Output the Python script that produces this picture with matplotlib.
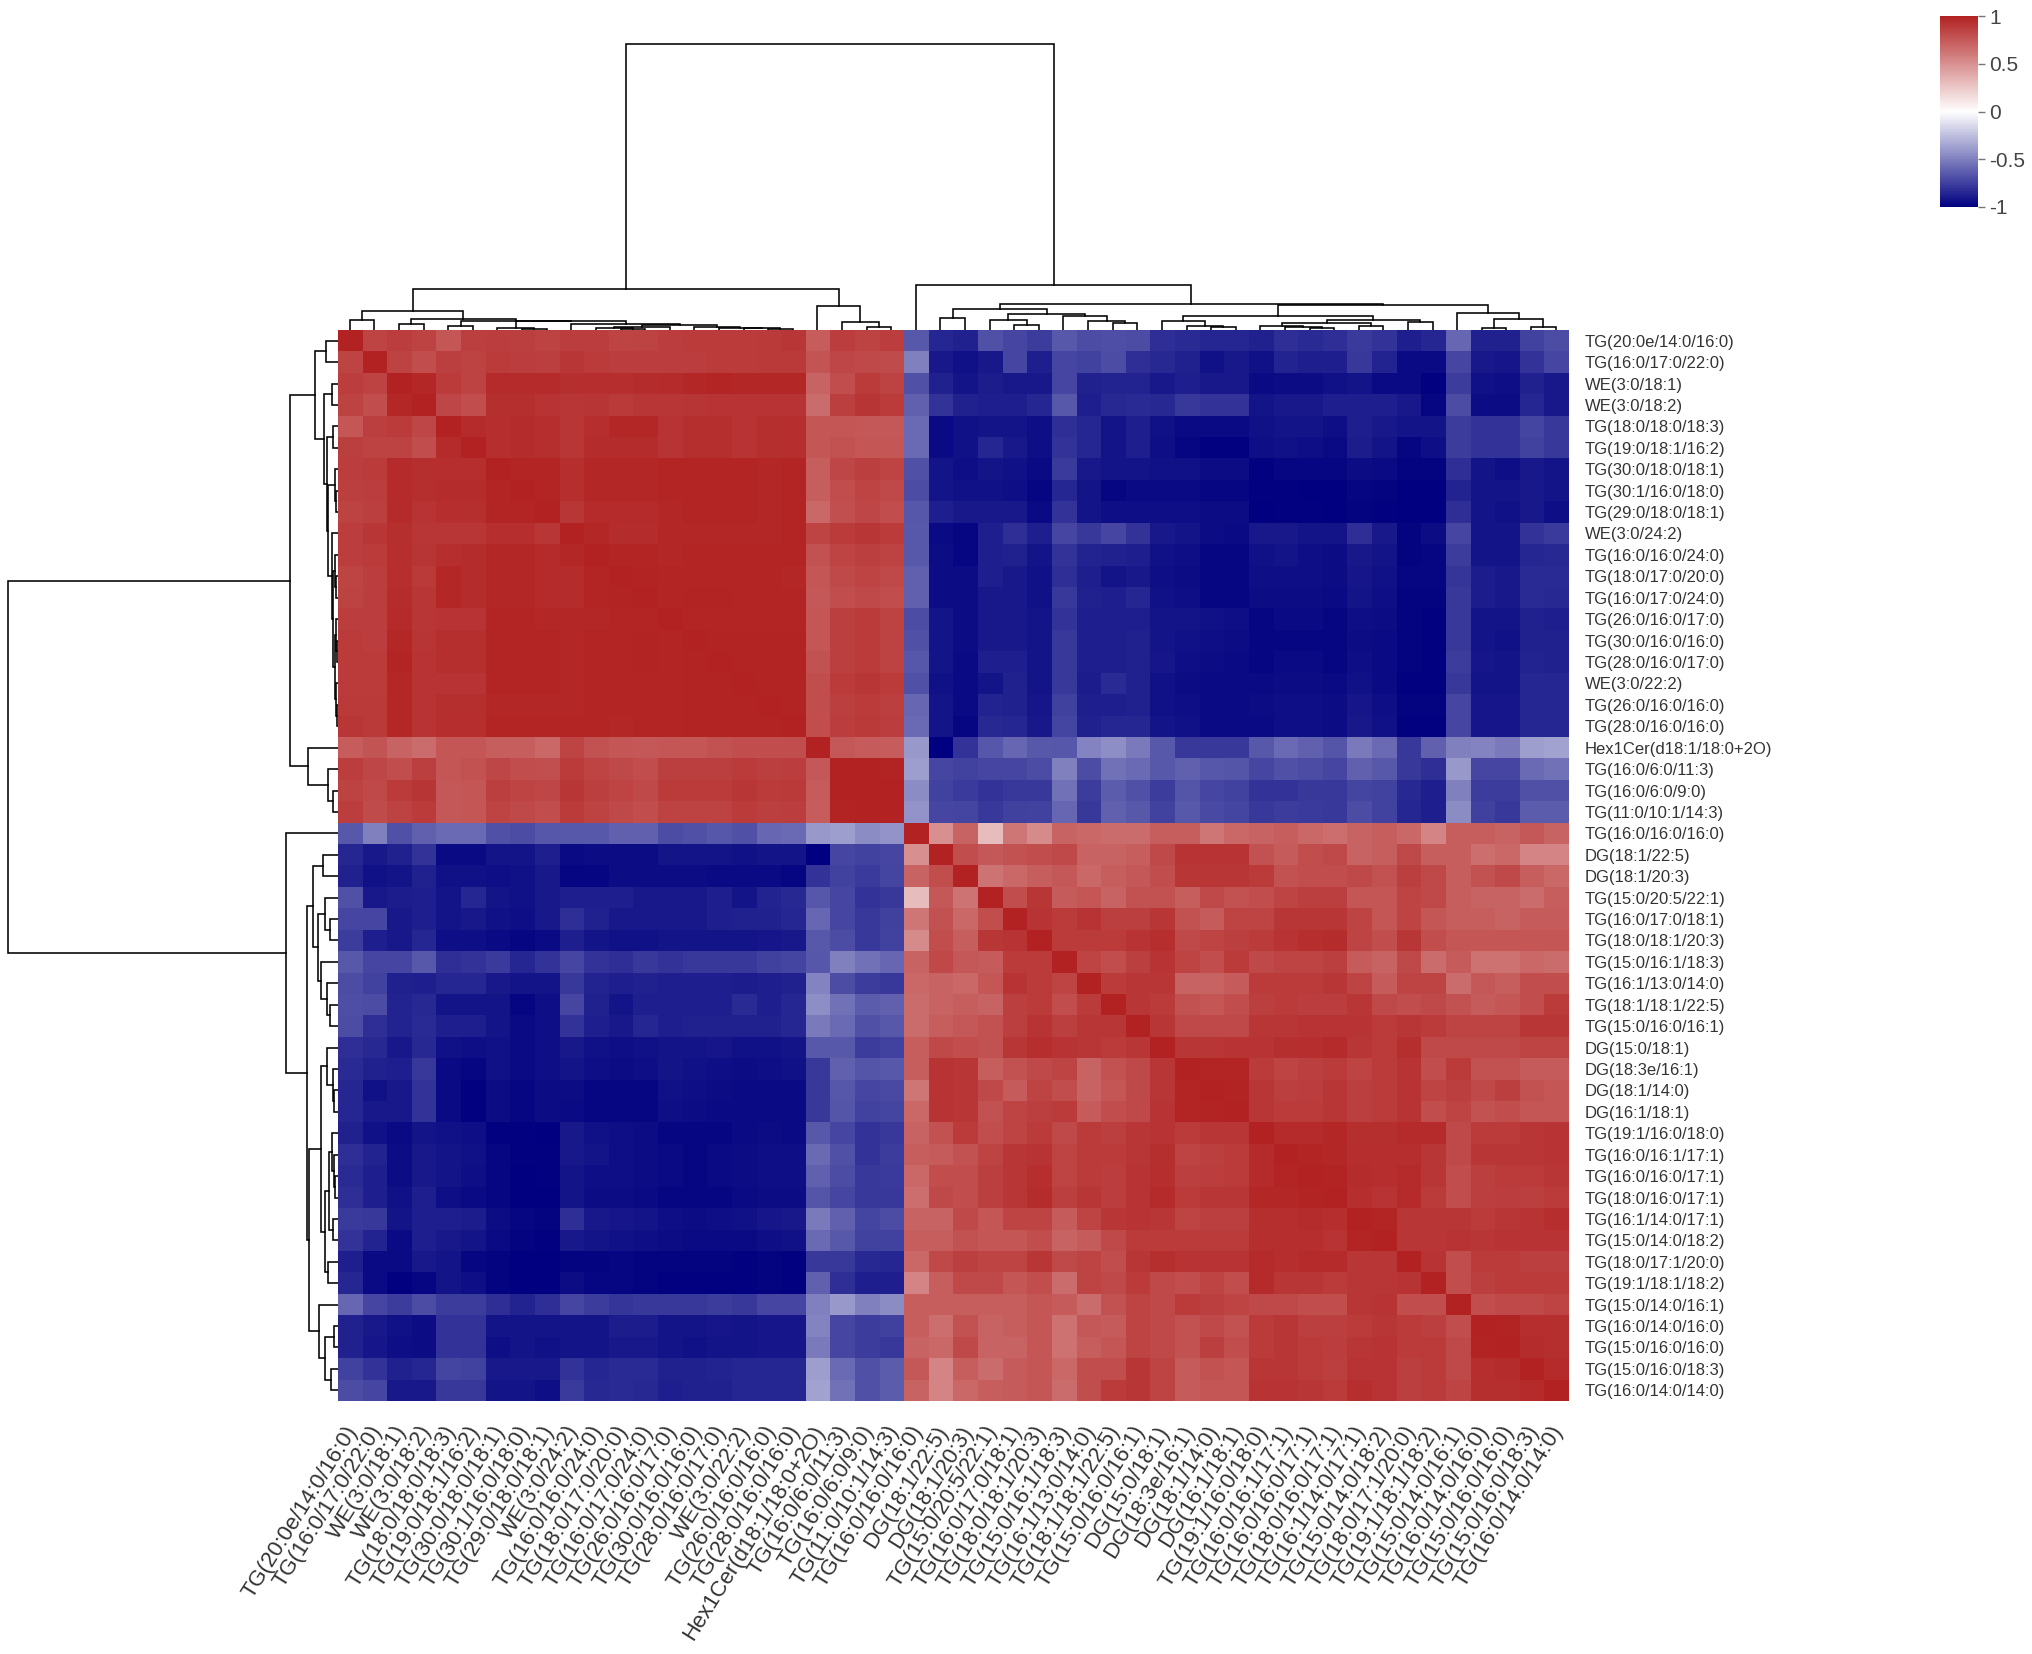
import numpy as np
import matplotlib
matplotlib.use("Agg")
import matplotlib.pyplot as plt
from matplotlib.colors import LinearSegmentedColormap
from matplotlib.transforms import ScaledTranslation

plt.rcParams['font.family'] = ['Liberation Sans', 'DejaVu Sans']

labels = [
    "TG(20:0e/14:0/16:0)", "TG(16:0/17:0/22:0)", "WE(3:0/18:1)", "WE(3:0/18:2)", "TG(18:0/18:0/18:3)",
    "TG(19:0/18:1/16:2)", "TG(30:0/18:0/18:1)", "TG(30:1/16:0/18:0)", "TG(29:0/18:0/18:1)", "WE(3:0/24:2)",
    "TG(16:0/16:0/24:0)", "TG(18:0/17:0/20:0)", "TG(16:0/17:0/24:0)", "TG(26:0/16:0/17:0)", "TG(30:0/16:0/16:0)",
    "TG(28:0/16:0/17:0)", "WE(3:0/22:2)", "TG(26:0/16:0/16:0)", "TG(28:0/16:0/16:0)", "Hex1Cer(d18:1/18:0+2O)",
    "TG(16:0/6:0/11:3)", "TG(16:0/6:0/9:0)", "TG(11:0/10:1/14:3)", "TG(16:0/16:0/16:0)", "DG(18:1/22:5)",
    "DG(18:1/20:3)", "TG(15:0/20:5/22:1)", "TG(16:0/17:0/18:1)", "TG(18:0/18:1/20:3)", "TG(15:0/16:1/18:3)",
    "TG(16:1/13:0/14:0)", "TG(18:1/18:1/22:5)", "TG(15:0/16:0/16:1)", "DG(15:0/18:1)", "DG(18:3e/16:1)",
    "DG(18:1/14:0)", "DG(16:1/18:1)", "TG(19:1/16:0/18:0)", "TG(16:0/16:1/17:1)", "TG(16:0/16:0/17:1)",
    "TG(18:0/16:0/17:1)", "TG(16:1/14:0/17:1)", "TG(15:0/14:0/18:2)", "TG(18:0/17:1/20:0)", "TG(19:1/18:1/18:2)",
    "TG(15:0/14:0/16:1)", "TG(16:0/14:0/16:0)", "TG(15:0/16:0/16:0)", "TG(15:0/16:0/18:3)", "TG(16:0/14:0/14:0)",
]

# correlation x100. first block: rows 1-23, diagonal to column 23
block_a = [
    [100,84,87,85,76,86,87,86,85,87,87,84,85,87,88,88,88,89,90,73,87,85,87],
    [100,85,80,86,85,88,87,86,90,88,87,87,87,87,88,88,89,89,77,83,82,81],
    [100,97,88,85,96,96,96,93,94,94,95,96,97,98,97,97,97,70,80,88,85],
    [100,83,80,93,93,92,90,91,89,90,90,91,92,92,92,92,66,86,91,88],
    [100,96,94,95,94,90,94,97,97,92,93,93,92,93,94,76,76,75,75],
    [100,94,95,93,90,95,95,95,92,93,93,92,93,94,76,78,76,76],
    [100,98,98,94,97,97,97,98,98,98,98,97,98,72,83,86,84],
    [100,98,94,97,97,97,98,98,98,98,97,98,72,80,84,82],
    [100,90,96,96,96,97,98,98,98,97,98,68,79,83,80],
    [100,97,95,95,97,97,97,97,97,98,84,88,90,88],
    [100,98,98,97,98,98,98,98,98,78,84,86,85],
    [100,99,98,98,98,98,98,97,76,82,84,82],
    [100,98,99,99,98,98,98,75,80,82,80],
    [100,98,98,98,98,98,76,86,88,85],
    [100,99,99,99,99,76,86,88,85],
    [100,99,99,99,78,86,88,85],
    [100,99,99,80,88,90,88],
    [100,99,80,86,88,86],
    [100,80,87,89,87],
    [100,75,74,73],
    [100,100,99],
    [100,100],
    [100],
]

# rows 1-23 against columns 24-50
block_cross = [
    [-65,-85,-87,-68,-72,-76,-65,-70,-69,-70,-82,-83,-85,-85,-87,-82,-83,-82,-77,-80,-88,-85,-60,-87,-87,-74,-70],
    [-50,-90,-93,-90,-72,-88,-72,-74,-70,-82,-84,-87,-93,-90,-93,-86,-88,-88,-78,-86,-96,-96,-72,-90,-91,-80,-72],
    [-68,-87,-92,-89,-90,-90,-72,-87,-86,-86,-90,-88,-90,-90,-96,-95,-95,-93,-92,-96,-96,-99,-76,-93,-94,-87,-90],
    [-62,-80,-87,-88,-88,-85,-65,-88,-84,-83,-84,-78,-80,-80,-92,-90,-90,-88,-88,-88,-90,-97,-70,-95,-95,-85,-90],
    [-58,-96,-93,-92,-92,-94,-82,-85,-92,-88,-93,-96,-96,-96,-93,-92,-92,-94,-88,-90,-92,-92,-76,-80,-80,-73,-78],
    [-58,-96,-93,-85,-90,-94,-80,-85,-92,-88,-94,-97,-99,-99,-94,-93,-94,-96,-89,-92,-97,-94,-76,-80,-80,-74,-78],
    [-68,-92,-94,-92,-93,-96,-77,-90,-92,-92,-93,-93,-95,-95,-99,-97,-97,-97,-95,-96,-98,-98,-82,-92,-94,-90,-92],
    [-70,-92,-93,-93,-94,-97,-85,-92,-97,-96,-96,-96,-97,-97,-99,-99,-100,-100,-97,-98,-100,-100,-86,-92,-92,-90,-92],
    [-66,-88,-90,-90,-90,-96,-80,-92,-94,-94,-94,-94,-95,-95,-100,-99,-99,-100,-98,-99,-100,-100,-82,-92,-93,-90,-94],
    [-65,-96,-97,-88,-82,-88,-72,-78,-72,-80,-90,-92,-95,-96,-90,-90,-92,-92,-82,-90,-98,-95,-72,-92,-92,-80,-77],
    [-65,-95,-97,-88,-87,-92,-80,-86,-87,-88,-93,-94,-97,-97,-93,-92,-94,-95,-90,-92,-98,-97,-76,-92,-92,-85,-84],
    [-62,-95,-95,-88,-90,-93,-82,-88,-92,-90,-94,-95,-97,-97,-94,-94,-94,-95,-91,-93,-97,-97,-79,-89,-90,-83,-83],
    [-62,-95,-95,-90,-90,-93,-78,-87,-88,-85,-93,-94,-97,-97,-95,-95,-95,-96,-92,-94,-98,-98,-78,-89,-90,-83,-84],
    [-70,-92,-95,-90,-90,-92,-80,-88,-88,-88,-92,-92,-93,-94,-97,-96,-96,-97,-94,-95,-98,-99,-78,-92,-92,-87,-88],
    [-68,-92,-95,-90,-90,-92,-78,-88,-88,-87,-92,-93,-94,-95,-97,-97,-97,-97,-95,-96,-98,-99,-78,-92,-93,-87,-87],
    [-66,-92,-96,-88,-88,-92,-78,-88,-88,-87,-91,-94,-95,-96,-97,-96,-96,-97,-94,-96,-98,-99,-76,-91,-92,-86,-87],
    [-68,-93,-96,-92,-87,-92,-78,-89,-83,-87,-93,-95,-96,-96,-96,-95,-95,-96,-93,-96,-99,-99,-78,-92,-92,-85,-85],
    [-60,-92,-96,-86,-87,-91,-75,-88,-88,-87,-93,-94,-96,-96,-95,-94,-94,-95,-91,-94,-98,-98,-72,-91,-91,-85,-85],
    [-58,-92,-97,-84,-85,-90,-73,-87,-85,-85,-92,-93,-96,-96,-96,-94,-94,-95,-90,-93,-99,-99,-72,-91,-91,-85,-85],
    [-40,-100,-80,-66,-60,-65,-66,-48,-44,-52,-65,-78,-78,-78,-65,-58,-62,-67,-52,-58,-78,-62,-50,-48,-52,-38,-36],
    [-38,-72,-74,-72,-72,-70,-50,-70,-55,-58,-65,-62,-66,-67,-72,-68,-70,-72,-62,-65,-78,-82,-40,-72,-72,-58,-55],
    [-45,-74,-77,-80,-78,-78,-55,-76,-64,-68,-76,-67,-72,-74,-80,-80,-78,-78,-73,-74,-84,-88,-50,-76,-76,-68,-68],
    [-42,-72,-73,-78,-75,-74,-60,-78,-62,-65,-74,-65,-71,-73,-78,-76,-77,-78,-70,-74,-85,-88,-45,-75,-78,-64,-64],
]

# rows 24-50, diagonal to column 50
block_b = [
    [100,50,70,30,62,52,70,68,66,66,72,72,62,68,70,72,68,65,70,72,68,55,72,72,70,75,70],
    [100,80,75,78,80,82,70,70,72,82,92,92,92,78,74,80,82,70,72,82,72,72,65,68,55,55],
    [100,63,68,72,75,68,72,75,80,90,90,90,88,78,80,80,82,78,86,82,72,78,82,72,68],
    [100,80,90,74,76,70,78,78,72,82,78,80,84,86,86,76,76,84,82,72,70,70,66,72],
    [100,92,88,92,86,86,90,78,74,84,84,90,90,90,84,76,84,76,72,72,70,74,74],
    [100,88,88,88,92,94,82,84,86,88,92,94,95,84,80,90,80,76,76,76,76,76],
    [100,84,80,86,92,84,80,88,82,84,84,86,74,70,82,66,74,64,64,68,66],
    [100,88,90,90,70,70,74,88,88,88,90,84,74,84,84,66,75,72,80,80],
    [100,90,88,78,76,80,86,88,87,87,90,82,80,82,78,74,76,80,88],
    [100,90,82,82,82,90,90,92,92,92,88,90,88,84,84,84,90,90],
    [100,90,90,92,92,93,94,96,90,88,93,82,82,82,82,84,84],
    [100,98,98,88,84,86,88,84,88,92,80,88,78,78,74,74],
    [100,99,90,86,87,90,86,88,92,84,86,82,86,78,76],
    [100,90,88,88,90,86,88,92,80,84,78,80,76,76],
    [100,96,96,97,93,93,96,96,82,88,88,90,92],
    [100,98,97,94,94,94,90,82,90,90,90,92],
    [100,99,95,94,96,90,80,86,88,88,90],
    [100,94,92,96,88,80,86,87,86,88],
    [100,98,90,90,90,88,90,92,94],
    [100,90,90,92,90,92,92,92],
    [100,92,80,88,88,86,86],
    [100,80,86,88,88,88],
    [100,80,82,82,84],
    [100,99,94,93],
    [100,95,93],
    [100,96],
    [100],
]

# cluster trees as (height, left, right), leaves are 1-based positions
col_tree = (286,
    (41.3,
        (19, (10, 1, 2),
            (10.7, (5.7, 3, 4),
                (9.5, (4, 5, 6),
                    (9, (2, 7, (1.5, 8, 9)),
                        (6, 10,
                            (5, (3, (1.8, 11, (1.5, 12, 13)), 14),
                                (3.5, 15, (2.5, 16, (2, 17, (1.2, 18, 19)))))))))),
        (24.3, 20, (8.3, 21, (3.3, 22, 23)))),
    (45, 24,
        (25.7,
            (20.7, (11.7, 25, 26),
                (15.7, (10, 27, (5, 28, 29)),
                    (14, 30, (9.3, 31, (7.3, 32, 33))))),
            (25.5,
                (14, (9, 34, (4, 35, (3, 36, 37))),
                    (10, (7.3, (4, 38, (3.5, 39, (1.7, 40, 41))), (4, 42, 43)), (8, 44, 45))),
                (17, 46, (10.7, (2.3, 47, 48), (3.3, 49, 50)))))))

row_tree = (330,
    (47.7,
        (22.7, (12, 1, 2),
            (13.7, (5.3, 3, 4),
                (11, (4.3, 5, 6),
                    (9.7, (3, 7, (2, 8, 9)),
                        (6, 10,
                            (5, (3, 11, (2, 12, 13)),
                                (2.5, (2, 14, (1, 15, 16)), (2, 17, (1, 18, 19))))))))),
        (29.3, 20, (9.7, 21, (4.3, 22, 23)))),
    (51.3, 24,
        (31,
            (24.3, (14.3, 25, 26),
                (20, (13, 27, (7.7, 28, 29)),
                    (16.3, 30, (10.3, 31, (7.7, 32, 33))))),
            (29,
                (16.3, (10.3, 34, (5, 35, (3.7, 36, 37))),
                    (13, (8.7, (6, 38, (4, 39, (2.5, 40, 41))), (4.3, 42, 43)), (9.7, 44, 45))),
                (18.7, 46, (13, (3.7, 47, 48), (6.3, 49, 50)))))))

cbar_ticks = [-1, -0.5, 0, 0.5, 1]
cbar_ticklabels = ["-1", "-0.5", "0", "0.5", "1"]

# build symmetric matrix
n = len(labels)
mat = np.zeros((n, n))
for i, row in enumerate(block_a):
    assert len(row) == 23 - i, i
    mat[i, i:23] = row
for i, row in enumerate(block_cross):
    assert len(row) == 27, i
    mat[i, 23:] = row
for i, row in enumerate(block_b):
    assert len(row) == 27 - i, i
    mat[23 + i, 23 + i:] = row
mat = mat + mat.T - np.diag(np.diag(mat))
mat = mat / 100

W, H = 2032, 1654
fig = plt.figure(figsize=(W / 100, H / 100), dpi=100)


def px_axes(x0, y0, x1, y1):
    return fig.add_axes([x0 / W, 1 - y1 / H, (x1 - x0) / W, (y1 - y0) / H])


hm_l, hm_r, hm_t, hm_b = 337.5, 1568, 330, 1401
cmap = LinearSegmentedColormap.from_list("nwf", ["navy", "white", "firebrick"])

ax = px_axes(hm_l, hm_t, hm_r, hm_b)
im = ax.imshow(mat, cmap=cmap, vmin=-1, vmax=1, aspect="auto", interpolation="nearest")
for s in ax.spines.values():
    s.set_visible(False)
ax.yaxis.tick_right()
ax.set_yticks(range(n))
ax.set_yticklabels(labels, fontsize=12, color="#333333")
ax.set_xticks(range(n))
ax.set_xticklabels(labels, fontsize=15.9, color="#333333", rotation=58, ha="right", va="top", rotation_mode="anchor")
ax.tick_params(axis="both", length=0)
ax.tick_params(axis="y", pad=12)
ax.tick_params(axis="x", pad=15)

# bottom labels sit a little left of the cell centres
shift = ScaledTranslation(-6 / 100, 0, fig.dpi_scale_trans)
for t in ax.get_xticklabels():
    t.set_transform(t.get_transform() + shift)


def draw_tree(node, axd, horizontal):
    # returns (center position, height) of the node
    if isinstance(node, int):
        return node - 0.5, 0
    h, a, b = node
    pa, ha = draw_tree(a, axd, horizontal)
    pb, hb = draw_tree(b, axd, horizontal)
    pos = [pa, pa, pb, pb]
    hts = [ha, h, h, hb]
    if horizontal:
        axd.plot(pos, hts, color="black", lw=1.15, solid_joinstyle="miter")
    else:
        axd.plot(hts, pos, color="black", lw=1.15, solid_joinstyle="miter")
    return (pa + pb) / 2, h


top = px_axes(hm_l, 0, hm_r, hm_t)
top.set_xlim(0, n)
top.set_ylim(0, hm_t)
draw_tree(col_tree, top, True)
top.axis("off")

left = px_axes(0, hm_t, hm_l, hm_b)
left.set_xlim(hm_l, 0)
left.set_ylim(n, 0)
draw_tree(row_tree, left, False)
left.axis("off")

cax = px_axes(1940, 16, 1978, 207)
cb = fig.colorbar(im, cax=cax, ticks=cbar_ticks)
cb.set_ticklabels(cbar_ticklabels)
cb.outline.set_visible(False)
cb.ax.tick_params(labelsize=15, length=5, width=1, color="#777777", labelcolor="#444444", pad=3)

fig.savefig("out.png", dpi=100, facecolor="white")
